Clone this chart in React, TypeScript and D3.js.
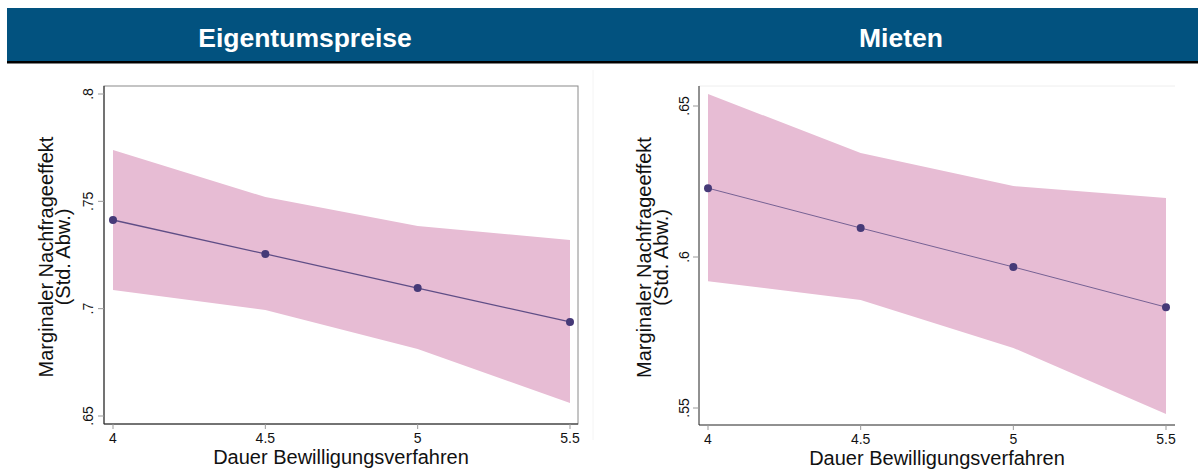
import React from "react";
import * as d3 from "d3";

const xValues = [4, 4.5, 5, 5.5];
const xTicks = [4, 4.5, 5, 5.5];
const xTickLabels = ["4", "4.5", "5", "5.5"];

const ownEst = [0.7413, 0.7255, 0.7096, 0.6938];
const ownLo = [0.7087, 0.6994, 0.6812, 0.656];
const ownHi = [0.7739, 0.752, 0.7385, 0.732];
const ownTicks = [0.65, 0.7, 0.75, 0.8];
const ownTickLabels = [".65", ".7", ".75", ".8"];

const rentEst = [0.6228, 0.6096, 0.5967, 0.5834];
const rentLo = [0.592, 0.5858, 0.5699, 0.548];
const rentHi = [0.654, 0.6344, 0.6235, 0.6195];
const rentTicks = [0.55, 0.6, 0.65];
const rentTickLabels = [".55", ".6", ".65"];

const titles = ["Eigentumspreise", "Mieten"];
const yLabel1 = "Marginaler Nachfrageeffekt";
const yLabel2 = "(Std. Abw.)";
const xLabel = "Dauer Bewilligungsverfahren";

const FONT = "Liberation Sans, Arial, Helvetica, sans-serif";
const FILL = "#e7bcd4";
const LINE = "#463a78";

type PanelProps = {
  est: number[];
  lo: number[];
  hi: number[];
  yTicks: number[];
  yTickLabels: string[];
  frame: { left: number; right: number; top: number; bottom: number };
  xRange: [number, number];
  yDomain: [number, number];
  yRange: [number, number];
  yLabelX: number;
  tickLabelX: number;
  variant: "left" | "right";
};

function Panel(p: PanelProps) {
  const x = d3.scaleLinear().domain([4, 5.5]).range(p.xRange);
  const y = d3.scaleLinear().domain(p.yDomain).range(p.yRange);
  const idx = xValues.map((_, i) => i);
  const area = d3
    .area<number>()
    .x((i) => x(xValues[i]))
    .y0((i) => y(p.lo[i]))
    .y1((i) => y(p.hi[i]));
  const line = d3
    .line<number>()
    .x((i) => x(xValues[i]))
    .y((i) => y(p.est[i]));
  const f = p.frame;
  const midY = (f.top + f.bottom) / 2 + 2;
  const midX = (f.left + f.right) / 2;
  return (
    <g>
      {p.variant === "left" ? (
        <rect
          x={f.left}
          y={f.top}
          width={f.right - f.left}
          height={f.bottom - f.top}
          fill="none"
          stroke="#8a8a8a"
          strokeWidth={1}
        />
      ) : (
        <line x1={f.left} x2={f.right} y1={f.top} y2={f.top} stroke="#eeeeee" strokeWidth={1} />
      )}
      <path d={area(idx) || ""} fill={FILL} />
      <path
        d={line(idx) || ""}
        fill="none"
        stroke={LINE}
        strokeWidth={p.variant === "left" ? 1.3 : 1}
        strokeOpacity={p.variant === "left" ? 0.85 : 0.7}
      />
      {idx.map((i) => (
        <circle key={i} cx={x(xValues[i])} cy={y(p.est[i])} r={4} fill={LINE} />
      ))}
      <line x1={f.left} x2={f.left} y1={f.top} y2={f.bottom} stroke="#222" strokeWidth={1} />
      <line x1={f.left} x2={f.right} y1={f.bottom} y2={f.bottom} stroke="#222" strokeWidth={1} />
      {p.yTicks.map((t, i) => (
        <g key={"y" + i}>
          <line x1={f.left - 6} x2={f.left} y1={y(t)} y2={y(t)} stroke="#999" strokeWidth={1} />
          <text
            transform={`translate(${p.tickLabelX},${y(t)}) rotate(-90)`}
            textAnchor="middle"
            fontFamily={FONT}
            fontSize={14}
            fill="#111"
          >
            {p.yTickLabels[i]}
          </text>
        </g>
      ))}
      {xTicks.map((t, i) => (
        <g key={"x" + i}>
          <line x1={x(t)} x2={x(t)} y1={f.bottom} y2={f.bottom + 5} stroke="#999" strokeWidth={1} />
          <text x={x(t)} y={f.bottom + 19} textAnchor="middle" fontFamily={FONT} fontSize={14} fill="#111">
            {xTickLabels[i]}
          </text>
        </g>
      ))}
      <text
        transform={`translate(${p.yLabelX},${midY}) rotate(-90)`}
        textAnchor="middle"
        fontFamily={FONT}
        fontSize={20}
        fill="#111"
      >
        {yLabel1}
      </text>
      <text
        transform={`translate(${p.yLabelX + 17},${midY}) rotate(-90)`}
        textAnchor="middle"
        fontFamily={FONT}
        fontSize={20}
        fill="#111"
      >
        {yLabel2}
      </text>
      <text x={midX} y={f.bottom + 40} textAnchor="middle" fontFamily={FONT} fontSize={20} fill="#111">
        {xLabel}
      </text>
    </g>
  );
}

export default function App() {
  return (
    <svg
      width={1198}
      height={472}
      style={{ position: "absolute", left: 0, top: 0, background: "#fff" }}
    >
      <rect x={7} y={8} width={1191} height={53} fill="#02527f" />
      <rect x={7} y={61} width={1191} height={2.5} fill="#000" />
      <text x={305} y={47} textAnchor="middle" fontFamily={FONT} fontWeight="bold" fontSize={26.5} fill="#fff">
        {titles[0]}
      </text>
      <text x={901} y={47} textAnchor="middle" fontFamily={FONT} fontWeight="bold" fontSize={26.5} fill="#fff">
        {titles[1]}
      </text>
      <line x1={593} x2={593} y1={70} y2={440} stroke="#f4f4f4" strokeWidth={1} />
      <Panel
        est={ownEst}
        lo={ownLo}
        hi={ownHi}
        yTicks={ownTicks}
        yTickLabels={ownTickLabels}
        frame={{ left: 104, right: 578, top: 86, bottom: 424 }}
        xRange={[113, 570]}
        yDomain={[0.65, 0.8]}
        yRange={[416, 94]}
        yLabelX={53}
        tickLabelX={93}
        variant="left"
      />
      <Panel
        est={rentEst}
        lo={rentLo}
        hi={rentHi}
        yTicks={rentTicks}
        yTickLabels={rentTickLabels}
        frame={{ left: 699, right: 1175, top: 86, bottom: 425 }}
        xRange={[708, 1166]}
        yDomain={[0.55, 0.65]}
        yRange={[408, 106]}
        yLabelX={651}
        tickLabelX={689}
        variant="right"
      />
    </svg>
  );
}
